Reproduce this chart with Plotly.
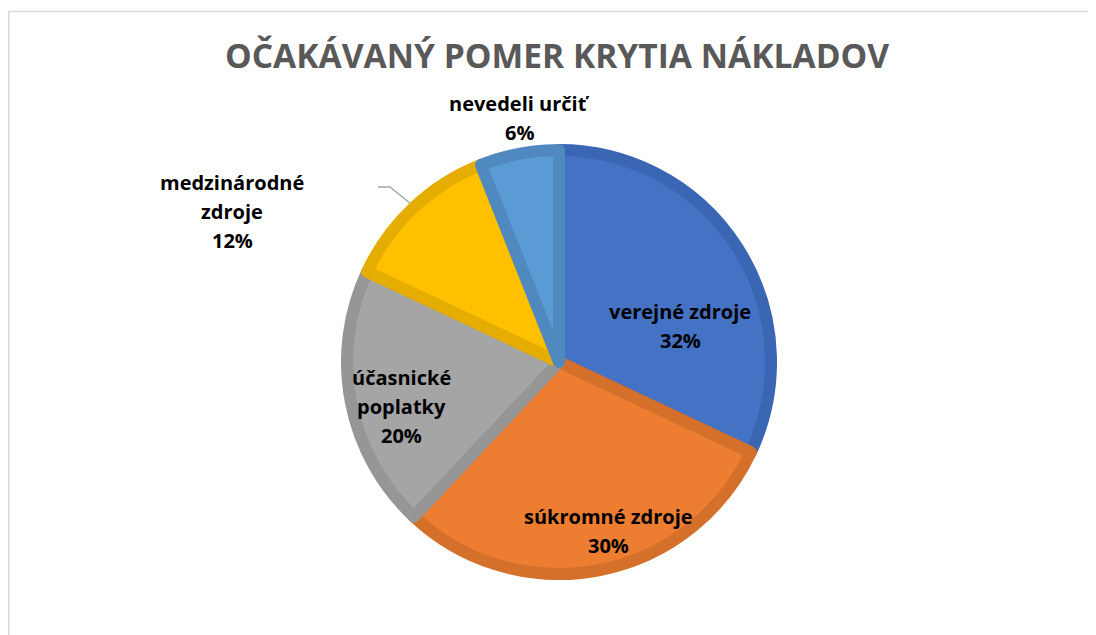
import math
import plotly.graph_objects as go

# ---- data ----
categories = ["verejné zdroje", "súkromné zdroje", "účasnické poplatky",
              "medzinárodné zdroje", "nevedeli určiť"]
values = [32, 30, 20, 12, 6]
label_lines = [["verejné zdroje"], ["súkromné zdroje"], ["účasnické", "poplatky"],
               ["medzinárodné", "zdroje"], ["nevedeli určiť"]]
title_text = "OČAKÁVANÝ POMER KRYTIA NÁKLADOV"

# ---- style ----
W, H = 1096, 635
OFF = 8                    # page body margin offset (px)
fill_colors = ["#4472C4", "#ED7D31", "#A5A5A5", "#FFC000", "#5B9BD5"]
edge_colors = ["#3B66B3", "#D5702B", "#969696", "#E5AD00", "#4F89C0"]
CX, CY = 559, 362          # pie centre (px, in screenshot)
R_OUT = 218                # outer radius incl. border (px)
EDGE_W = 12                # stroke width (half visible inside)
R_FILL = R_OUT - EDGE_W / 2
LINE_H = 29                # label line spacing (px)
# label block centre (px) for each slice
label_pos = [(680, 326), (608, 531), (401, 406), (232, 211), (519, 118)]
LABEL_FONT = dict(family="Open Sans", size=20, color="#000000")


def px(x):
    return (x - OFF) / W


def py(y):
    return 1 - (y - OFF) / H


fig = go.Figure()
fig.add_trace(go.Pie(
    labels=categories, values=values, sort=False, direction="clockwise",
    rotation=0, textinfo="none", hoverinfo="label+percent",
    marker=dict(colors=fill_colors, line=dict(color=edge_colors, width=EDGE_W)),
    domain=dict(x=[px(CX - R_FILL), px(CX + R_FILL)],
                y=[py(CY + R_FILL), py(CY - R_FILL)]),
    showlegend=False,
))

total = sum(values)
annotations = []
for i, (lines, v) in enumerate(zip(label_lines, values)):
    pct = f"{round(v / total * 100)}%"
    all_lines = lines + [pct]
    cx, cy = label_pos[i]
    n = len(all_lines)
    for k, t in enumerate(all_lines):
        ly = cy + (k - (n - 1) / 2) * LINE_H
        annotations.append(dict(
            x=px(cx), y=py(ly), xref="paper", yref="paper", text=f"<b>{t}</b>",
            showarrow=False, font=LABEL_FONT, xanchor="center", yanchor="middle"))

# leader line for the medzinárodné slice, ending at the slice's mid-angle on the rim
cum = sum(values[:3]) + values[3] / 2
ang = cum / total * 2 * math.pi
ex = CX + R_OUT * math.sin(ang)
ey = CY - R_OUT * math.cos(ang)
lx0, ly0 = 378, 187
lx1 = 390
shapes = [
    dict(type="path", xref="paper", yref="paper",
         path=f"M {px(lx0)} {py(ly0)} L {px(lx1)} {py(ly0)} L {px(ex)} {py(ey)}",
         line=dict(color="#A6A6A6", width=1.3)),
    dict(type="rect", xref="paper", yref="paper", x0=0.8 / W, y0=-0.05, x1=1.05,
         y1=py(11.5), line=dict(color="#D9D9D9", width=1.5), layer="below"),
]

annotations.append(dict(
    x=px(557), y=py(55), xref="paper", yref="paper", showarrow=False,
    text=f"<b>{title_text}</b>", xanchor="center", yanchor="middle",
    font=dict(family="Open Sans", size=33.6, color="#595959")))

fig.update_layout(
    width=W, height=H, margin=dict(l=0, r=0, t=0, b=0),
    paper_bgcolor="white", plot_bgcolor="white",
    annotations=annotations, shapes=shapes,
)
fig.write_html("out.html")
